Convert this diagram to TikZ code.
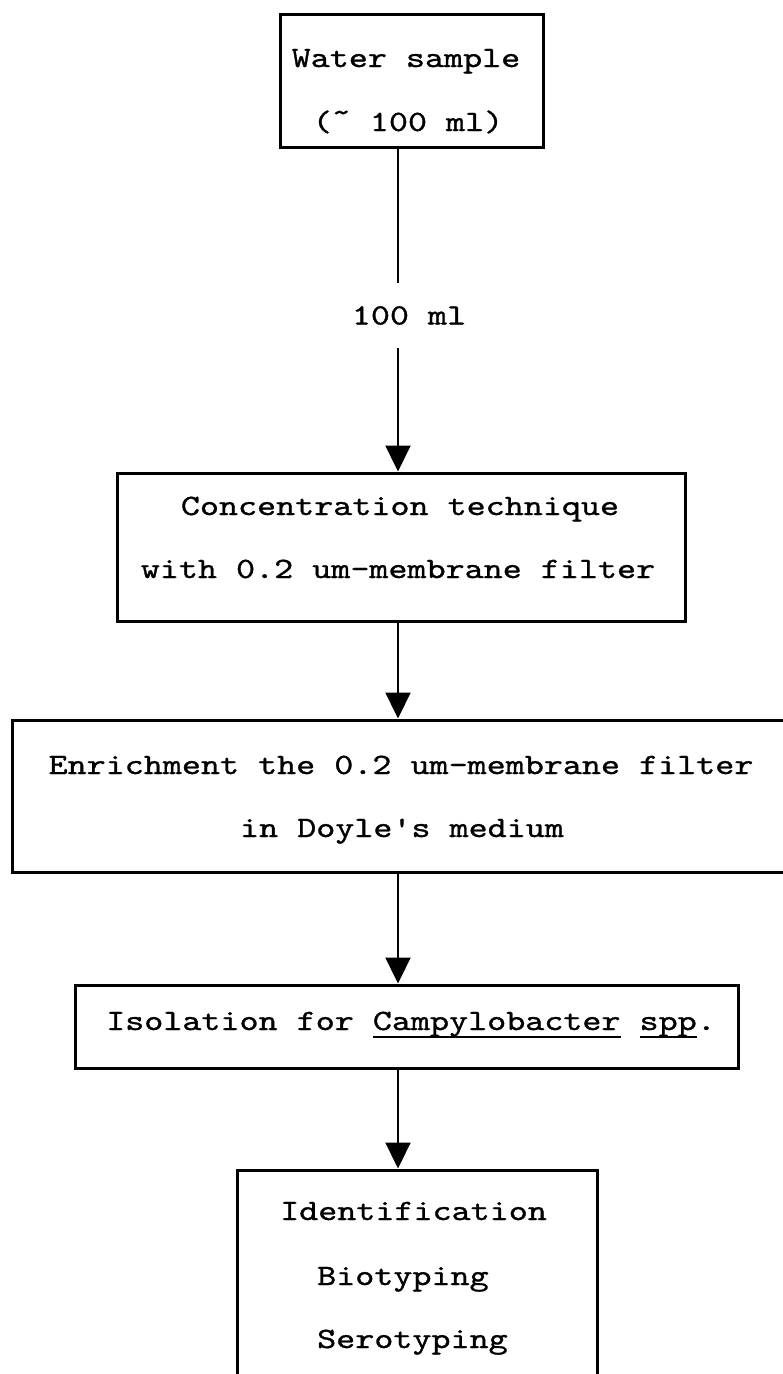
\documentclass[tikz,border=0pt]{standalone}
\usepackage{fontspec}
\usepackage{graphicx}
\usetikzlibrary{arrows.meta}
\newfontfamily\typew{lmmono10-regular.otf}[FakeBold=0.9]
\newcommand\twtext[1]{\scalebox{1.23}[1]{#1}}
\newcommand\ulx[1]{\setbox0\hbox{#1}\rlap{\smash{\rule[-0.27em]{\wd0}{1.6pt}}}\box0\relax}
\begin{document}
\begin{tikzpicture}[x=1pt,y=-1pt,
  box/.style={draw, line width=3pt, inner sep=0pt},
  txt/.style={inner sep=0pt, anchor=base, font=\typew\fontsize{29.5pt}{35pt}\selectfont},
  stem/.style={line width=2.2pt},
  arr/.style={line width=2.2pt, -{Triangle[length=26pt,width=25pt]}}]
\useasboundingbox (0,0) rectangle (783,1374);
\clip (0,0) rectangle (783,1374);
\fill[white] (0,0) rectangle (783,1374);
\coordinate (ax) at (398,0);
% boxes
\node[box, minimum width=263pt, minimum height=133pt] (b1) at (411.5,80.5) {};
\node[box, minimum width=568pt, minimum height=148pt] (b2) at (401,547) {};
\node[box, minimum width=788pt, minimum height=152pt] (b3) at (406,796) {};
\node[box, minimum width=663pt, minimum height=83pt] (b4) at (406.5,1026.5) {};
\node[box, minimum width=360pt, minimum height=240pt] (b5) at (417,1290) {};
% texts
\node[txt] (t1a) at (406,67) {\twtext{Water sample}};
\node[txt] (t1b) at (408,131) {\twtext{(\raisebox{0.32em}{\textasciitilde} 100 ml)}};
\node[txt] (t2a) at (400,515) {\twtext{Concentration technique}};
\node[txt] (t2b) at (398,578) {\twtext{with 0.2 um-membrane filter}};
\node[txt] (t3a) at (401,774) {\twtext{Enrichment the 0.2 um-membrane filter}};
\node[txt] (t3b) at (402,837) {\twtext{in Doyle's medium}};
\node[txt] (t4) at (411,1030) {\twtext{Isolation for \ulx{Campylobacter} \ulx{spp}.}};
\node[txt, anchor=base west] (t5a) at (280,1220) {\twtext{Identification}};
\node[txt, anchor=base west] (t5b) at (317,1285) {\twtext{Biotyping}};
\node[txt, anchor=base west] (t5c) at (317,1348) {\twtext{Serotyping}};
% label on first connector
\node[txt, anchor=center, text height=18pt, text depth=0pt, inner ysep=23.5pt] (lbl) at (409,315.5) {\twtext{100 ml}};
% connectors
\draw[stem] (b1.south -| ax) -- (lbl.north -| ax);
\draw[arr] (lbl.south -| ax) -- (b2.north -| ax);
\draw[arr] (b2.south -| ax) -- (b3.north -| ax);
\draw[arr] (b3.south -| ax) -- (b4.north -| ax);
\draw[arr] (b4.south -| ax) -- (b5.north -| ax);
\end{tikzpicture}
\end{document}
